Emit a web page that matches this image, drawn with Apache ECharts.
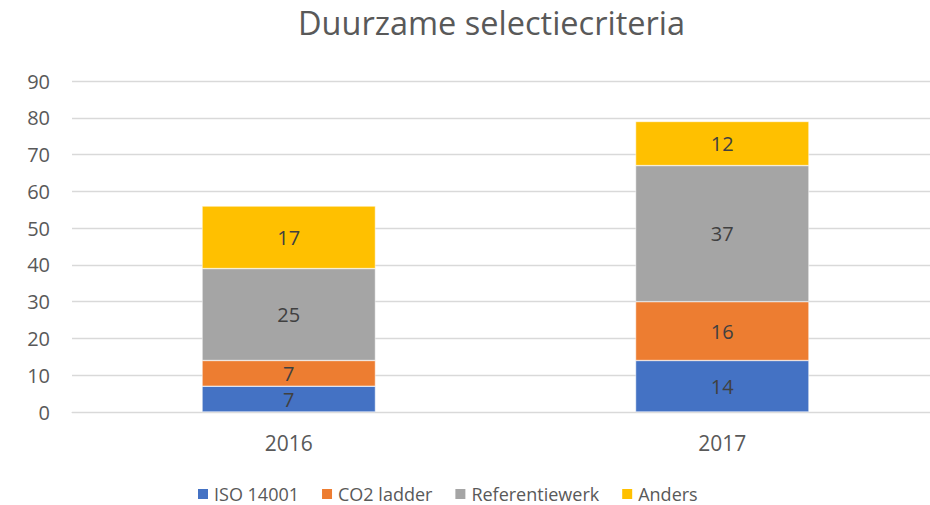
<!DOCTYPE html>
<html>
<head>
<meta charset="utf-8">
<script src="https://cdn.jsdelivr.net/npm/echarts@6/dist/echarts.min.js"></script>
<style>
  html, body { margin: 0; padding: 0; background: #fff; }
  #chart { width: 930px; height: 505px; }
</style>
</head>
<body>
<div id="chart"></div>
<script>
var years = ['2016', '2017'];
var iso = [7, 14];
var co2 = [7, 16];
var referentie = [25, 37];
var anders = [17, 12];

var font = 'Open Sans';
var chart = echarts.init(document.getElementById('chart'), null, { renderer: 'svg' });

function seg(name, data, color) {
  return {
    name: name,
    type: 'bar',
    stack: 'total',
    barWidth: '40%',
    data: data,
    itemStyle: { color: color, borderColor: '#fff', borderWidth: 0.5 },
    label: { show: true, position: 'inside', color: '#404040', fontSize: 20, fontFamily: font }
  };
}

chart.setOption({
  animation: false,
  title: {
    text: 'Duurzame selectiecriteria',
    left: 293,
    top: 1,
    textStyle: { color: '#595959', fontSize: 32.5, fontWeight: 'normal', fontFamily: font }
  },
  legend: {
    top: 484,
    left: 196,
    padding: 0,
    itemWidth: 12,
    itemHeight: 12,
    itemGap: 21,
    icon: 'rect',
    textStyle: { color: '#595959', fontSize: 18, lineHeight: 20, fontFamily: font },
    data: ['ISO 14001', 'CO2 ladder', 'Referentiewerk', 'Anders']
  },
  grid: { left: 72, top: 81, bottom: 93, width: 867, outerBoundsMode: 'none' },
  xAxis: {
    type: 'category',
    data: years,
    axisLine: { lineStyle: { color: '#d9d9d9' } },
    axisTick: { show: false },
    axisLabel: { color: '#595959', fontSize: 21, fontFamily: font, margin: 20 }
  },
  yAxis: {
    type: 'value',
    min: 0,
    max: 90,
    interval: 10,
    axisLine: { show: false },
    axisTick: { show: false },
    splitLine: { lineStyle: { color: '#d9d9d9', width: 1.3 } },
    axisLabel: { color: '#595959', fontSize: 20, fontFamily: font, margin: 22 }
  },
  series: [
    seg('ISO 14001', iso, '#4472C4'),
    seg('CO2 ladder', co2, '#ED7D31'),
    seg('Referentiewerk', referentie, '#A5A5A5'),
    seg('Anders', anders, '#FFC000')
  ]
});
</script>
</body>
</html>
